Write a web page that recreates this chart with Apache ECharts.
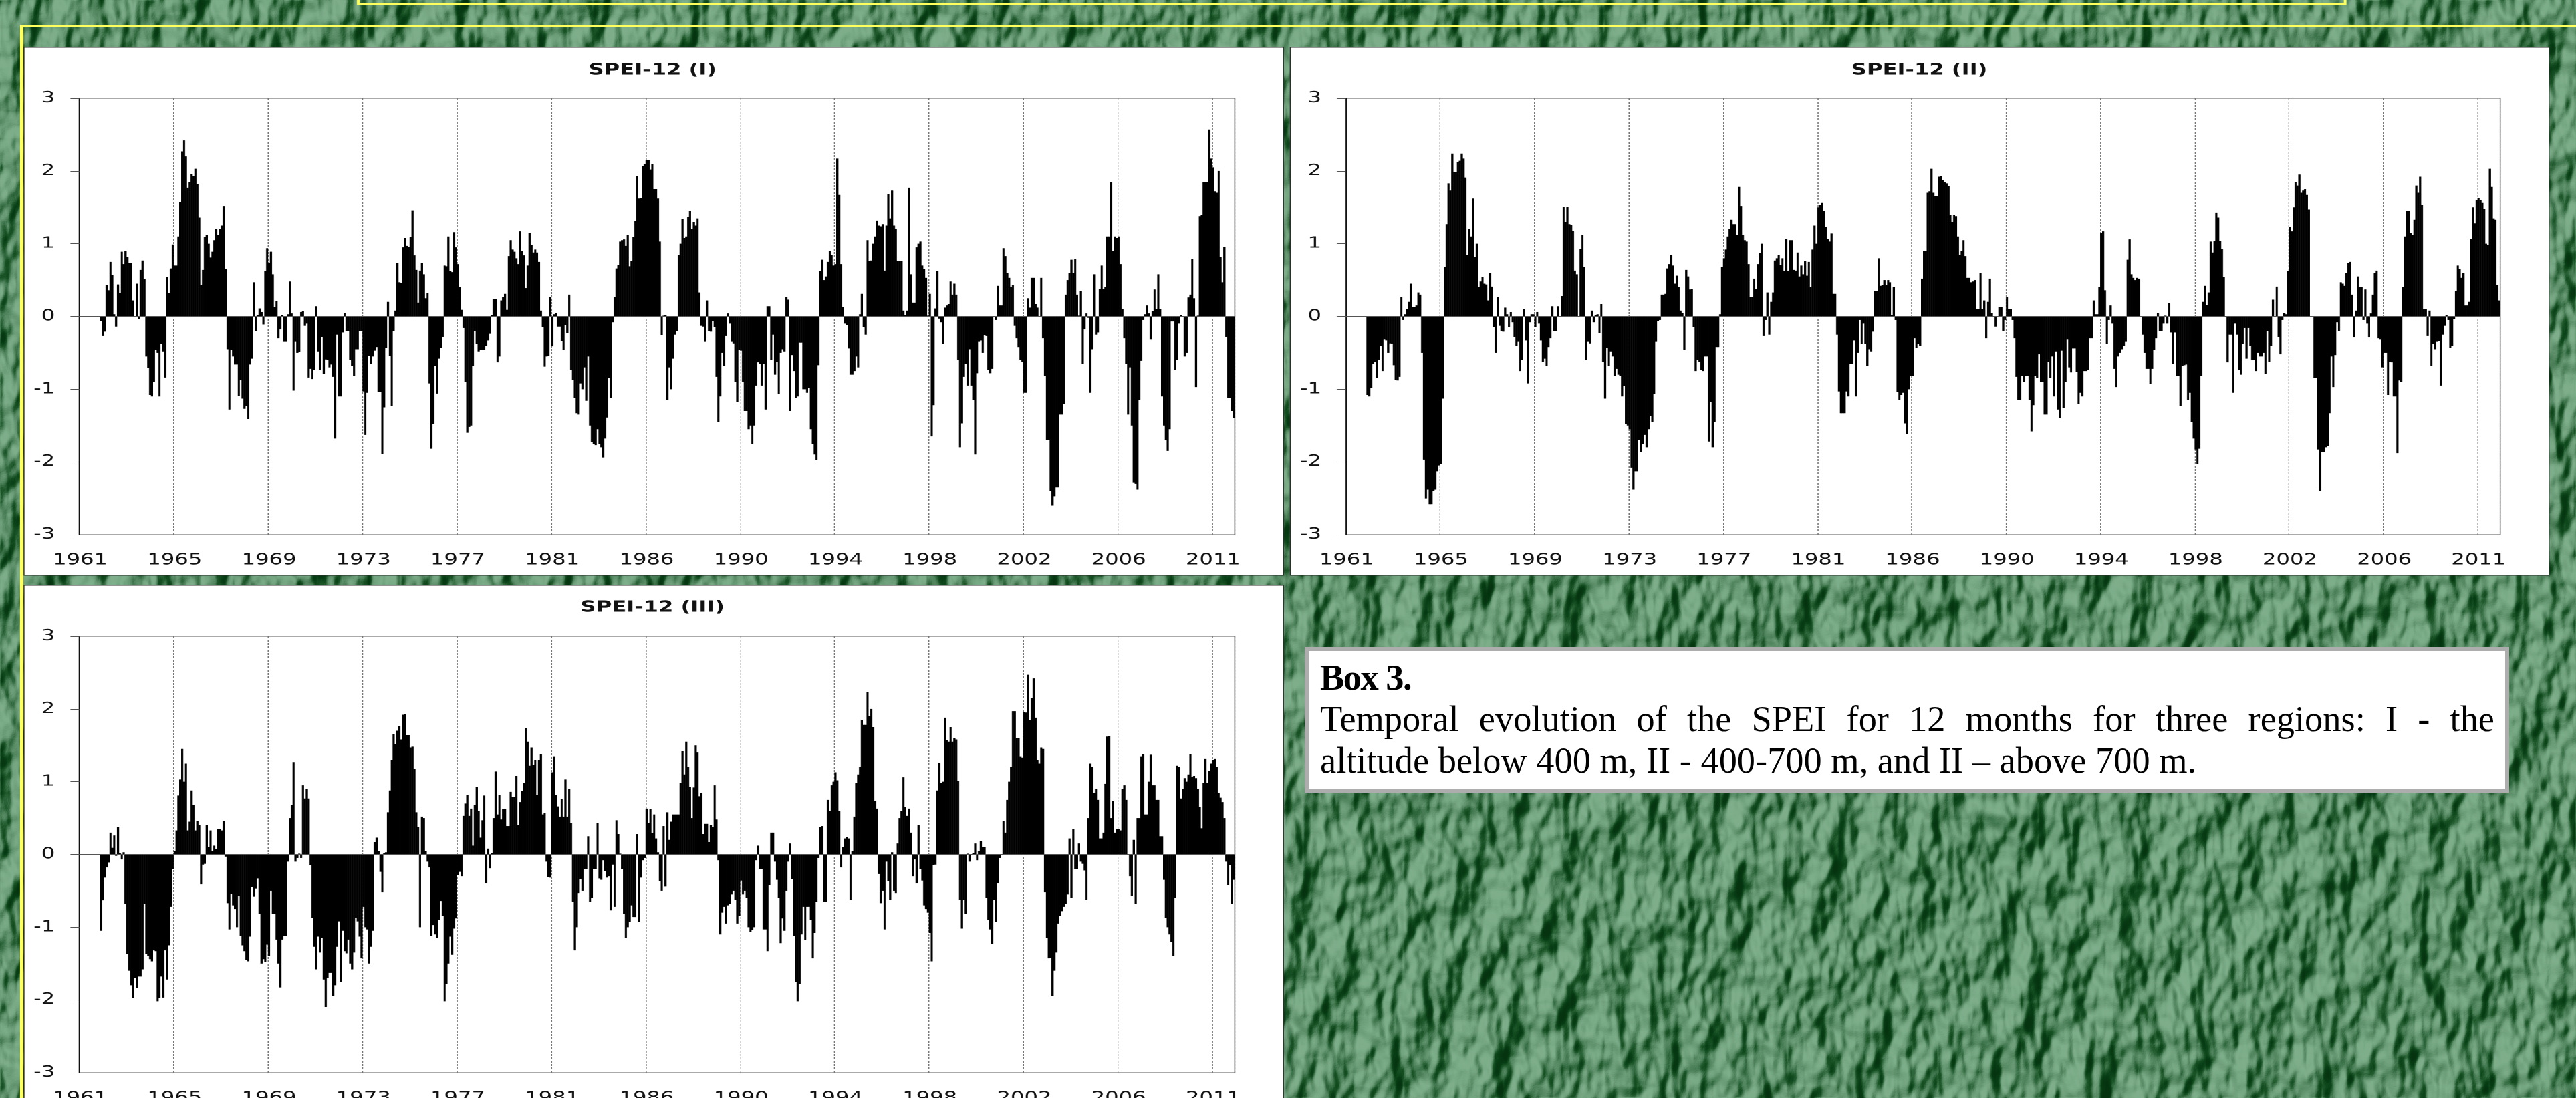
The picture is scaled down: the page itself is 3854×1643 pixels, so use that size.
<!DOCTYPE html>
<html>
<head>
<meta charset="utf-8">
<script src="https://cdn.jsdelivr.net/npm/echarts@6/dist/echarts.min.js"></script>
<style>
html,body{margin:0;padding:0;width:3854px;height:1643px;overflow:hidden;background:#5f9470}
#bg{position:absolute;left:0;top:0}
#chart{position:absolute;left:0;top:0;transform-origin:0 0;transform:scaleX(1.4)}
#box{position:absolute;left:1952px;top:968px;width:1802px;height:218px;box-sizing:border-box;border:6px solid #adadad;background:#fff;padding:9px 16px 0 17px;font-family:"Liberation Serif",serif;font-size:54.4px;line-height:62px;color:#000}
#box b{display:block;letter-spacing:-1.5px}
#box .j{display:block;text-align:justify;text-align-last:justify}
#box .n{display:block}
</style>
</head>
<body>
<svg id="bg" width="3854" height="1643" xmlns="http://www.w3.org/2000/svg">
  <filter id="leaf" x="0" y="0" width="100%" height="100%" color-interpolation-filters="sRGB">
    <feTurbulence type="fractalNoise" baseFrequency="0.02 0.012" numOctaves="3" seed="11" result="n"/>
    <feDiffuseLighting in="n" surfaceScale="24" diffuseConstant="0.85" lighting-color="#ffffff" result="l">
      <feDistantLight azimuth="35" elevation="52"/>
    </feDiffuseLighting>
    <feComponentTransfer in="l">
      <feFuncR type="table" tableValues="0.02 0.03 0.10 0.26 0.38 0.49 0.55"/>
      <feFuncG type="table" tableValues="0.20 0.24 0.33 0.47 0.58 0.68 0.73"/>
      <feFuncB type="table" tableValues="0.06 0.08 0.15 0.31 0.43 0.54 0.60"/>
    </feComponentTransfer>
  </filter>
  <rect width="3854" height="1643" filter="url(#leaf)"/>
</svg>
<div id="chart"></div>
<div id="box">
  <b>Box 3.</b>
  <span class="j">Temporal evolution of the SPEI for 12 months for three regions: I - the</span>
  <span class="n">altitude below 400 m, II - 400-700 m, and II – above 700 m.</span>
</div>
<script>
const tickYears = [1961,1965,1969,1973,1977,1981,1986,1990,1994,1998,2002,2006,2011];
const yTicks = [-3,-2,-1,0,1,2,3];
const panelTitles = ['SPEI-12 (I)','SPEI-12 (II)','SPEI-12 (III)'];
const monthsPerTick = 50;
const totalMonths = 612;
const firstYear = 1961;

const regionI = [
null,null,null,null,null,null,null,null,null,null,
null,-.06,-.27,-.21,.43,.36,.75,.57,.03,-.14,
.44,.32,.89,.72,.9,.82,.73,.73,.22,0,
.45,-.04,.64,.77,.51,-.55,-.71,-1.08,-1.1,-.9,
-.46,-.5,-1.1,-.38,-.48,-.84,.54,.32,.66,.99,
.70,.70,1.1,1.57,2.27,2.42,2.2,1.77,1.85,1.96,
1.93,2.03,1.82,1.36,.43,.64,1.09,1.12,1.0,.81,
.89,1.05,1.2,1.12,1.2,1.25,1.52,.65,-.45,-1.28,
-.46,-.55,-.66,-.66,-1.09,-.87,-1.13,-1.27,-1.23,-1.41,
-.66,-.58,.47,-.2,.02,.11,.06,-.11,.62,.94,
.73,.89,.58,.13,.21,-.3,-.18,.02,-.35,-.35,
.03,.48,.04,-1.02,-.35,-.5,-.49,.06,.07,-.13,
-.1,-.84,-.72,-.86,-.74,.14,-.48,-.73,-.28,-.79,
-.59,-.6,-.7,-.66,-.83,-1.68,-.25,-1.1,-1.1,-.22,
.05,-.2,-.2,-.6,-.68,-.82,-.45,-.45,-.2,-.2,
-1.03,-1.63,-1.05,-.54,-.65,-.55,-.47,-.42,-1.04,-1.04,
-1.89,-1.25,-.43,.2,-.54,-1.23,-.2,.08,.74,.47,
.46,.95,1.08,.97,.96,1.09,1.46,.84,.64,.19,
.63,.73,.58,.25,.32,-.92,-1.82,-1.48,-.68,-1.06,
-.58,-.43,-.28,.7,.69,1.1,.62,.61,1.16,.95,
.72,.4,.09,-.16,-.9,-1.6,-1.52,-1.5,-.68,-.2,
-.38,-.48,-.46,-.46,-.46,-.4,-.33,-.24,.02,.24,
.24,-.63,-.55,.22,.27,.31,.09,.83,1.05,.92,
.89,.8,.72,1.17,.9,.84,.39,.7,1.15,.98,
.88,.92,.88,.75,.08,-.15,-.69,-.55,-.54,.27,
-.41,.03,.05,-.14,-.14,-.34,-.46,-.12,-.23,.3,
-.73,-.87,-1.12,-1.33,-1.35,-.92,-1.0,-.7,-1.16,-.55,
-1.5,-1.73,-1.75,-1.77,-1.55,-1.75,-1.8,-1.94,-1.68,-1.39,
-.85,-1.12,-.08,.27,.66,.71,1.03,1.05,1.06,.97,
1.12,.69,.76,1.09,1.31,1.93,1.62,1.63,2.07,2.1,
2.15,2.15,2.02,2.1,1.75,1.75,1.62,1.03,-.26,.01,
.02,-1.15,-.7,-1.0,-.58,-.25,-.2,.85,1.0,1.34,
1.08,1.1,1.37,1.45,1.2,1.3,1.25,1.35,.33,-.13,
-.14,-.35,.22,-.2,-.21,-.06,-.15,-.83,-1.45,-1.1,
-.5,-.68,-.27,.04,-.1,-.35,-.37,-.9,-1.18,-.46,
-.47,-.9,-1.3,-1.3,-1.55,-1.5,-1.75,-1.5,-.95,-.63,
-.65,-.95,-.65,-1.28,.14,.14,-.6,-.25,-.8,-.62,
-1.07,-.5,-.45,-.48,.27,.23,-1.3,-.53,-.75,-1.12,
-1.1,-.36,-.36,-1.0,-1.0,-1.05,-.98,-1.55,-1.75,-1.9,
-1.98,-.67,.62,.78,.5,.55,.75,.9,.85,.7,
.72,2.17,1.67,.72,.13,-.1,-.12,-.44,-.8,-.8,
-.75,-.55,-.7,.03,.31,-.15,-.25,1.05,.76,.77,
1.0,1.1,1.32,1.25,1.24,1.27,.63,1.25,1.68,1.35,
1.73,1.25,1.2,.76,.76,.76,.08,.02,.08,1.77,
.58,.19,.19,.95,1.0,1.03,.7,.65,.53,.01,
.31,-1.65,-1.22,.11,.62,-.03,-.08,-.38,.12,.15,
.17,.48,.3,.45,.3,-.6,-1.8,-1.47,-.83,-.65,
-.95,-.45,-.95,-1.15,-1.9,-.78,-.35,-.33,-.5,-.26,
-.27,-.73,-.78,-.72,-.01,-.05,.42,.15,.15,.94,
.83,.6,.53,.4,.43,-.13,-.3,-.42,-.6,-.62,
-1.05,-1.05,.25,.12,.53,.53,.17,.12,-.01,.53,
-.3,-.82,-1.7,-1.7,-2.4,-2.6,-2.47,-2.35,-2.35,-1.35,
-1.35,-1.2,.3,.5,.6,.78,.6,.79,.3,.01,
.35,-.65,-.18,.04,-.02,-1.05,-.45,.58,-.25,-.22,
.38,.7,.38,.4,1.1,1.1,1.85,.9,1.1,1.08,
1.1,.72,.1,-.3,-.65,-1.35,-.7,-1.5,-2.28,-2.3,
-2.38,-1.15,-.61,-.05,.03,.15,.04,-.32,.07,.37,
.1,.58,.1,-1.1,-1.5,-1.7,-1.85,-1.55,-.07,-.07,
-.74,-.6,-.1,.02,0,-.55,-.5,.26,.3,.79,
.25,-.97,.01,1.38,1.4,1.85,1.85,1.85,2.57,2.17,
2.05,1.72,1.7,2.0,.82,.47,.96,-.28,-1.12,-1.12,
-1.3,-1.4
];

const regionII = [
null,null,null,null,null,null,null,null,null,null,
null,-1.08,-1.1,-.98,-.65,-.62,-.85,-.6,-.4,-.75,
-.32,-.33,-.5,-.37,-.38,-.67,-.87,-.88,-.83,.27,
-.05,.03,.1,.2,.45,.13,.13,.15,.33,.3,
-.5,-1.97,-2.5,-2.38,-2.58,-2.58,-2.4,-2.38,-2.13,-2.05,
-2.03,-1.13,.68,1.27,1.83,1.73,2.24,1.98,1.98,2.12,
2.14,2.24,2.17,1.91,.85,1.2,1.1,1.62,.82,1.0,
.4,.48,.54,.45,.44,.22,.6,.41,-.15,-.5,
.27,-.13,-.2,-.21,.12,.03,-.15,.06,-.08,-.28,
-.4,-.35,-.75,-.6,.1,-.33,-.92,-.08,.03,.03,
-.15,.06,-.1,-.33,-.62,-.58,-.68,-.42,-.3,.14,
-.2,-.2,.14,0,.28,1.51,1.3,1.51,1.27,1.26,
1.18,.63,.58,0,.93,1.12,.68,-.6,-.35,-.37,
.08,-.08,.02,.03,-.23,.17,-.62,-1.13,-.43,-.68,
-.48,-.55,-.82,-.72,-.8,-.82,-1.1,-.96,-1.48,-1.5,
-1.55,-2.08,-2.38,-2.13,-2.13,-1.7,-1.87,-1.75,-1.63,-1.8,
-1.55,-1.37,-1.45,-1.07,-.35,-.06,-.05,.3,.3,.31,
.66,.72,.85,.7,.45,.56,.4,.08,.05,-.46,
.64,.55,.37,.38,-.15,-.75,-.6,-.62,-.73,-.75,
-.55,-.55,-1.72,-1.18,-1.8,-1.45,-.42,-.42,.03,.68,
.8,.92,1.1,1.2,1.33,1.27,1.27,1.12,1.78,1.52,
1.12,1.05,1.03,.72,.27,.27,.52,.38,.72,.87,
1.0,-.27,-.05,.33,-.25,.2,.33,.77,.8,.85,
.71,.8,.62,1.07,.62,1.05,1.05,.64,.63,.88,
.55,.7,.58,.76,.56,.75,.4,.92,1.25,1.0,
1.5,1.53,1.56,1.45,1.23,1.07,1.03,1.14,.31,.31,
-.25,-1.03,-1.33,-1.33,-1.33,-1.03,-1.1,-.65,-.65,-.33,
-1.1,-.5,-.05,-.38,-.1,-.38,-.68,-.45,-.48,-.21,
.35,.35,.8,.42,.43,.5,.43,.5,.47,.02,
.4,-.05,-1.04,-1.15,-1.08,-1.05,-1.47,-1.62,-1.0,-.82,
-.82,-.3,-.43,-.38,-.4,.52,.9,.9,1.7,1.72,
2.03,1.7,1.65,1.65,1.92,1.93,1.87,1.85,1.83,1.79,
1.4,1.3,1.4,1.38,1.1,.85,.9,1.05,.83,.53,
.53,.47,.48,.5,.1,.1,.6,.1,.22,-.3,
.2,.52,.05,0,-.14,0,.13,.13,-.2,-.05,
.27,.1,.1,-.05,-.3,-.83,-1.15,-1.15,-.82,-.9,
-.82,-.82,-1.15,-1.58,-1.22,-.82,-.85,-.52,-.9,-.9,
-1.35,-1.35,-.62,-.85,-.55,-1.1,-.48,-1.28,-1.4,-.47,
-1.26,-.9,-.32,-.7,-.77,-.44,-.44,-.76,-1.2,-1.05,
-1.1,-.75,-.75,-.73,-.3,-.3,.22,.03,.03,.4,
1.15,1.17,.36,-.38,-.05,.15,-.1,-.72,-.97,-.55,
-.5,-.45,-.4,-.35,.78,1.06,.58,.53,.5,.53,
.52,0,-.25,-.5,-.72,-.72,-.93,-.72,-.46,-.3,
.05,-.2,-.2,-.1,.01,-.1,.18,-.22,-.65,-.22,
-.82,-.82,-1.23,-.68,-.67,-.66,-1.15,-1.05,-1.45,-1.68,
-1.83,-2.03,-1.82,-.82,.2,.42,.16,.33,1.03,.88,
1.04,1.43,1.36,1.04,.93,.54,0,-.63,-.25,-.25,
-1.05,-.1,-.25,-.73,-.8,-.38,-.16,-.58,-.16,-.4,
-.6,-.6,-.75,-.5,-.55,-.55,-.5,-.79,-.2,-.62,
-.4,.23,0,.41,-.28,-.52,-.05,.05,.03,.62,
1.23,1.17,1.5,1.85,1.8,1.95,1.7,1.73,1.75,1.67,
1.47,0,-.01,-.85,-.85,-1.83,-2.4,-1.87,-1.87,-1.8,
-1.78,-1.33,-.55,-.97,-.53,-.08,-.2,.47,.45,.42,
.6,.74,.75,.3,-.29,.08,.55,.4,.4,-.05,
.37,-.1,-.29,.04,.3,.6,.63,-.3,-.32,-.7,
-.5,-.5,-1.08,-.62,-.63,-1.1,-1.1,-1.88,-.88,-.9,
.4,1.1,1.45,1.45,1.15,1.12,1.33,1.8,1.7,1.92,
1.53,.1,.1,-.27,.08,-.68,-.38,-.45,-.35,-.34,
-.95,-.25,-.13,.02,-.05,-.43,-.4,-.04,.35,.7,
.65,.53,.6,.15,.15,.2,1.07,1.5,1.28,1.6,
1.63,1.6,1.56,1.48,1.0,.98,2.03,1.78,1.35,1.33,
.43,.22
];

const regionIII = [
null,null,null,null,null,null,null,null,null,null,
null,-1.05,-.63,-.32,-.18,-.11,.3,.09,.26,-.02,
.38,.02,-.07,.03,-.68,-1.37,-1.6,-1.8,-1.98,-1.7,
-1.84,-1.68,-1.68,-1.58,-.68,-1.37,-1.4,-1.44,-1.47,-1.32,
-1.33,-2.02,-1.98,-1.68,-1.97,-1.32,-1.72,-1.25,-.72,-.2,
.05,.33,.81,1.03,1.45,1.0,1.25,.33,.45,.88,
.68,.33,.46,.4,-.41,-.14,-.13,.4,.1,.33,
.05,.12,.07,.35,.35,.33,.46,-.03,-.67,-1.03,
-.54,-.7,-.75,-1.0,-.57,-1.12,-1.25,-1.33,-1.45,-1.47,
-1.13,-.45,-.58,-.47,-.33,-.82,-1.5,-1.44,-1.48,-1.24,
-1.4,-.5,-.82,-.82,-1.17,-1.5,-1.83,-1.17,-1.12,-1.12,
-.1,.5,.68,1.27,-.1,-.05,.01,-.05,.95,.77,
.9,.77,-.15,-.87,-1.27,-1.58,-1.13,-1.35,-1.15,-1.72,
-2.1,-1.7,-1.63,-1.63,-1.95,-1.8,-1.27,-.92,-1.75,-1.05,
-1.33,-1.36,-1.17,-1.5,-1.58,-1.35,-.87,-.92,-1.13,-1.43,
-.72,-1.0,-1.03,-1.5,-1.27,-1.05,.17,.23,.05,-.24,
-.52,.02,.03,.58,.88,1.3,1.65,1.52,1.7,1.76,
1.58,1.92,1.93,1.64,1.64,1.47,1.48,1.18,.58,.38,
-1.0,.52,.5,.05,-.1,-.18,-1.12,-.97,-1.1,-1.15,
-.9,-.64,-.85,-2.02,-1.78,-1.5,-1.13,-1.38,-1.02,-.88,
-.28,-.24,-.3,.53,.7,.82,.53,.63,.12,.68,
.93,.6,.23,.47,.81,-.4,.08,-.19,.02,.5,
1.14,.55,.82,.48,.62,.62,.39,.39,.86,.79,
.79,1.08,.4,.72,.87,.98,1.74,1.55,1.22,1.47,
1.23,1.3,.82,1.3,1.38,.55,.57,-.1,-.31,-.32,
1.13,1.35,.82,.66,.52,.76,.52,1.03,.52,.9,
.43,-.65,-1.32,-1.0,-.53,-.34,-.5,-.2,-.2,.25,
-.65,-.6,-.2,-.2,.43,-.33,-.35,-.08,-.23,-.32,
-.3,-.77,-.14,-.72,.47,.28,.01,-.2,-.82,-1.15,
-1.0,-.93,-.7,-.86,-.86,.28,-.93,-.32,-.08,-.05,
.63,.43,.62,.29,.55,.22,.03,-.37,-.5,.39,
-.44,.58,.2,.45,.55,.55,.55,.55,.98,1.42,
1.1,1.55,1.2,.93,.5,.92,1.5,1.4,.8,.85,
.28,.42,.42,.17,.4,.38,.95,.48,-.08,-1.1,
-.8,-.72,-.95,-.7,-.68,-.55,-.5,-.62,-.95,-.85,
-.36,-.55,-.5,-.6,-1.0,-1.07,-1.04,-1.0,-.08,.12,
-.2,-.2,-1.03,-1.03,-1.33,-.42,.3,.3,-.1,-.35,
-.6,-1.22,-.88,-1.05,-.5,-.1,.15,-.34,-1.12,-1.75,
-2.02,-1.78,-1.1,-.72,-1.18,-.72,-.72,-.9,-1.43,-1.08,
-.65,-.05,.38,.39,-.65,-.65,.75,.6,.95,1.0,
1.13,1.02,.6,-.18,.1,.22,.24,.22,-.62,.05,
.52,.98,1.1,1.2,1.85,1.78,1.78,2.23,1.9,2.0,
1.75,.73,.63,-.27,-.67,-.5,-1.03,-.1,-.37,-.62,
.03,-.5,-.53,.15,.5,.6,1.06,.65,.53,.63,
.3,-.3,-.07,-.4,.4,-.2,-.36,-.7,-.75,-.8,
-1.08,-1.47,-.15,-.14,.88,1.26,.98,1.0,1.88,1.57,
1.55,1.75,1.55,1.6,1.58,1.01,-.62,-1.02,-.62,-.82,
.01,-.1,0,.02,.15,-.08,.05,.18,.1,.1,
-.6,-.9,-1.03,-1.23,-.62,-.93,-.4,-.05,0,.46,
.3,.75,1.0,1.2,1.97,1.97,1.6,1.6,1.35,1.33,
1.96,1.95,2.47,1.85,2.15,2.42,1.88,1.3,1.25,1.47,
1.45,-.52,-1.15,-1.43,-1.42,-1.95,-1.6,-1.35,-.95,-.85,
-.78,-.72,-.68,-.55,.22,-.6,.35,-.2,-.2,.15,
-.1,-.13,-.22,-.62,.5,1.25,1.2,.85,.9,.75,
.22,.22,.3,.97,1.62,1.63,.5,.73,.3,.35,
.35,.33,.9,.95,.75,0,-.3,-.57,.2,-.68,
.5,.5,1.35,1.38,.55,.55,1.0,1.37,.95,.95,
.75,.75,.25,.25,-.35,-.87,-1.0,-1.1,-1.2,-1.4,
-.6,1.22,1.2,.77,.9,1.05,1.0,1.1,1.38,1.07,
1.08,1.05,.9,.65,.36,.98,1.32,.98,1.15,1.25,
1.3,1.32,1.2,.85,.78,.72,.5,-.1,-.42,-.15,
-.68,-.35
];

const seriesValues = [regionI, regionII, regionIII];
const categories = [];
for (let i = 0; i < totalMonths; i++) categories.push(String(firstYear + Math.floor(i / 12)));

const S = 1.4;
const X = v => v / S;
const W = 3854 / S, H = 1700;

const plots = [
  {l:118.6, r:1847, t:147, b:800, cx:976,  ty:94},
  {l:2013,  r:3740, t:147, b:800, cx:2871, ty:94},
  {l:118.6, r:1847, t:952, b:1605,cx:976,  ty:898}
];
const panels = [
  {l:36,  r:1920, t:71,  b:861},
  {l:1930,r:3813, t:71,  b:861},
  {l:36,  r:1920, t:876, b:1720}
];

const el = document.getElementById('chart');
el.style.width = W + 'px';
el.style.height = H + 'px';
const chart = echarts.init(el, null, {renderer:'canvas', devicePixelRatio:2, width:W, height:H});

const font = '"DejaVu Sans", sans-serif';
const isTick = (i) => i % monthsPerTick === 0;

const yellow = '#ffff5e';
const yRect = (l,t,r,b) => ({type:'rect', z:-20, silent:true, shape:{x:X(l), y:t, width:X(r-l), height:b-t}, style:{fill:yellow}});

const option = {
  animation:false,
  backgroundColor:'transparent',
  title: plots.map((p,i)=>({
    text:panelTitles[i], left:X(p.cx), top:p.ty, padding:0, textAlign:'center',
    textStyle:{fontFamily:font, fontWeight:'bold', fontSize:23, color:'#111'}
  })),
  graphic:{elements:[
    yRect(536,4,3508,8), yRect(534,0,538,8), yRect(3506,0,3510,8),
    yRect(31,37,3854,40), yRect(30,37,35,1643),
    ...panels.map(p=>({type:'rect', z:-10, silent:true,
      shape:{x:X(p.l), y:p.t, width:X(p.r-p.l), height:p.b-p.t},
      style:{fill:'#fff', stroke:'#2c2c2c', lineWidth:1}}))
  ]},
  grid: plots.map(p=>({left:X(p.l), width:X(p.r-p.l), top:p.t, height:p.b-p.t, show:true, borderColor:'#555', borderWidth:1, backgroundColor:'transparent', containLabel:false})),
  xAxis: plots.map((p,i)=>({
    type:'category', gridIndex:i, data:categories, boundaryGap:true,
    axisLine:{show:true, onZero:false, lineStyle:{color:'#555', width:1}},
    axisTick:{show:false},
    axisLabel:{show:true, interval:(idx)=>isTick(idx), margin:27, fontFamily:font, fontSize:23, color:'#111', hideOverlap:false},
    splitLine:{show:true, interval:(idx)=>isTick(idx) && idx>0, lineStyle:{color:'#777', width:1, type:[3,2]}}
  })),
  yAxis: plots.map((p,i)=>({
    type:'value', gridIndex:i, min:yTicks[0], max:yTicks[yTicks.length-1], interval:1,
    axisLine:{show:true, onZero:false, lineStyle:{color:'#111', width:1}},
    axisTick:{show:true, length:9.5, inside:false, lineStyle:{color:'#555', width:1}},
    axisLabel:{margin:26, fontFamily:font, fontSize:23, color:'#111', verticalAlign:'middle', padding:[2,0,0,0]},
    splitLine:{show:false}
  })),
  series: seriesValues.map((vals,i)=>({
    type:'bar', xAxisIndex:i, yAxisIndex:i, data:vals,
    barWidth:'112%', barGap:'0%',
    itemStyle:{color:'#000', borderWidth:0},
    progressive:0, silent:true,
    markLine:{silent:true, symbol:'none', animation:false, label:{show:false},
      lineStyle:{color:'#555', width:1, type:'solid'}, data:[{yAxis:0}]}
  }))
};
chart.setOption(option);
</script>
</body>
</html>
